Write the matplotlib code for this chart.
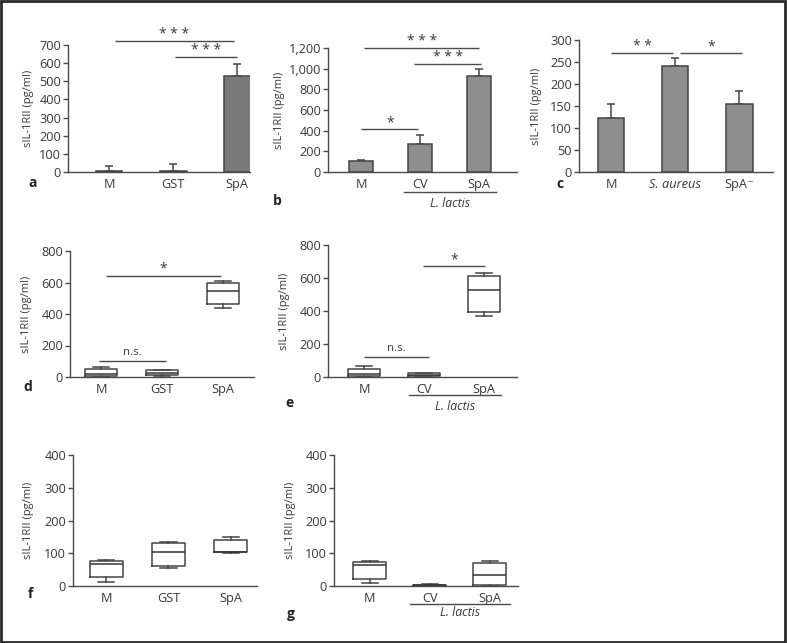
import matplotlib
matplotlib.use("Agg")
import matplotlib.pyplot as plt
from matplotlib.patches import Rectangle
from matplotlib.ticker import FuncFormatter

plt.rcParams['font.family'] = ['Open Sans', 'DejaVu Sans']

W, H = 787, 643
TXT = '#383838'
LINE = '#4a4a4a'

# ---------------- data ----------------
a_labels = ['M', 'GST', 'SpA']
a_means = [5, 5, 527]
a_err = [30, 40, 68]

b_labels = ['M', 'CV', 'SpA']
b_means = [105, 275, 925]
b_err = [15, 85, 75]

c_labels = ['M', 'S. aureus', 'SpA\u207b']
c_means = [123, 240, 155]
c_err = [32, 18, 30]

d_labels = ['M', 'GST', 'SpA']
d_whislo = [0, 6, 439]
d_q1 = [6, 15, 462]
d_med = [17, 28, 545]
d_q3 = [53, 42, 600]
d_whishi = [64, 47, 611]

e_labels = ['M', 'CV', 'SpA']
e_whislo = [0, 2, 372]
e_q1 = [4, 4, 392]
e_med = [18, 12, 525]
e_q3 = [46, 22, 614]
e_whishi = [67, 24, 628]

f_labels = ['M', 'GST', 'SpA']
f_whislo = [11, 54, 102]
f_q1 = [26, 61, 103]
f_med = [66, 103, 104]
f_q3 = [75, 130, 140]
f_whishi = [78, 134, 151]

g_labels = ['M', 'CV', 'SpA']
g_whislo = [9, 0, 1]
g_q1 = [21, 0.5, 4]
g_med = [65, 2, 35]
g_q3 = [73, 4, 70]
g_whishi = [77, 5, 75]

# significance brackets: (x_start, x_end, y_value, label)
a_sig = [(0.09, 1.95, 720, '***'), (1.03, 2.0, 635, '***')]
b_sig = [(0.05, 2.0, 1200, '***'), (0.9, 2.03, 1045, '***'), (0.0, 0.97, 416, '*')]
c_sig = [(0.0, 0.97, 270, '**'), (1.08, 2.05, 270, '*')]
d_sig = [(0.08, 1.97, 642, '*'), (-0.03, 1.07, 100, 'n.s.')]
e_sig = [(0.98, 2.02, 673, '*'), (0.0, 1.08, 121, 'n.s.')]

fig = plt.figure(figsize=(W / 100, H / 100), dpi=100)


def make_ax(left, right, y0px, ytop_px, ymax, xlim, yticks, ylabel_dx):
    ax = fig.add_axes([left / W, 1 - y0px / H, (right - left) / W, (y0px - ytop_px) / H])
    ax.set_xlim(*xlim)
    ax.set_ylim(0, ymax)
    for s in ['top', 'right']:
        ax.spines[s].set_visible(False)
    for s in ['left', 'bottom']:
        ax.spines[s].set_color(LINE)
        ax.spines[s].set_linewidth(1.0)
    ax.set_yticks(yticks)
    ax.tick_params(axis='y', direction='out', length=3.5, width=1.0, color=LINE,
                   labelcolor=TXT, labelsize=9.2, pad=1.5)
    ax.tick_params(axis='x', length=0, labelcolor=TXT, labelsize=9.2, pad=4)
    ax.set_ylabel('sIL-1RII (pg/ml)', fontsize=8, color=TXT)
    ax.yaxis.set_label_coords(-ylabel_dx / (right - left), 0.5)
    ax.patch.set_alpha(0)
    return ax


def add_sig(ax, sigs, px_per_unit, gap_px=7):
    for x1, x2, y, lab in sigs:
        ax.plot([x1, x2], [y, y], color=LINE, lw=1.0, clip_on=False, solid_capstyle='butt')
        dy = gap_px / px_per_unit
        if lab == 'n.s.':
            ax.text((x1 + x2) / 2, y + dy * 0.4, lab, ha='center', va='bottom',
                    fontsize=8.2, color=TXT, clip_on=False)
        else:
            ax.text((x1 + x2) / 2, y - dy * 0.15, ' '.join(lab), ha='center', va='bottom',
                    fontsize=10, color=TXT, clip_on=False)


def add_group(ax, x1, x2, yline, ytext):
    ax.plot([x1, x2], [yline, yline], color=LINE, lw=1.0, clip_on=False,
            transform=ax.get_xaxis_transform())
    ax.text((x1 + x2) / 2, ytext, 'L. lactis', style='italic', ha='center', va='center',
            fontsize=8.8, color=TXT, transform=ax.get_xaxis_transform(), clip_on=False)


def bar_panel(ax, labels, means, errs, color, width):
    x = list(range(len(labels)))
    ax.bar(x, means, width=width, color=color, edgecolor='#454545', linewidth=1.1, zorder=2)
    ax.errorbar(x, means, yerr=[[0] * len(errs), errs], fmt='none', ecolor='#454545',
                elinewidth=1.1, capsize=2.8, capthick=1.1, zorder=1)
    ax.set_xticks(x)
    ax.set_xticklabels(labels)


def box_panel(ax, labels, lo, q1, med, q3, hi, width):
    stats = []
    for i in range(len(labels)):
        stats.append(dict(whislo=lo[i], q1=q1[i], med=med[i], q3=q3[i], whishi=hi[i], fliers=[]))
    x = list(range(len(labels)))
    ax.bxp(stats, positions=x, widths=width, capwidths=width * 0.5, showfliers=False,
           patch_artist=False,
           boxprops=dict(color='#454545', linewidth=1.1),
           medianprops=dict(color='#353535', linewidth=1.1),
           whiskerprops=dict(color='#454545', linewidth=1.1),
           capprops=dict(color='#454545', linewidth=1.1))
    ax.set_xticks(x)
    ax.set_xticklabels(labels)


# ---- panel a ----
ax_a = make_ax(68, 250, 172, 45, 700, (-0.64, 2.2), range(0, 701, 100), 34)
bar_panel(ax_a, a_labels, a_means, a_err, '#7a7a7a', 0.42)
add_sig(ax_a, a_sig, 127 / 700)

# ---- panel b ----
ax_b = make_ax(328, 517, 172, 48, 1200, (-0.56, 2.64), range(0, 1201, 200), 43)
ax_b.yaxis.set_major_formatter(FuncFormatter(lambda v, p: f'{int(v):,}'))
bar_panel(ax_b, b_labels, b_means, b_err, '#8e8e8e', 0.41)
add_sig(ax_b, b_sig, 124 / 1200)
add_group(ax_b, 0.73, 2.29, -0.161, -0.25)

# ---- panel c ----
ax_c = make_ax(579, 773, 172, 40, 300, (-0.5, 2.53), range(0, 301, 50), 37)
bar_panel(ax_c, c_labels, c_means, c_err, '#8e8e8e', 0.42)
ax_c.get_xticklabels()[1].set_style('italic')
add_sig(ax_c, c_sig, 132 / 300)

# ---- panel d ----
ax_d = make_ax(70, 254, 377, 251, 800, (-0.51, 2.51), range(0, 801, 200), 38)
box_panel(ax_d, d_labels, d_whislo, d_q1, d_med, d_q3, d_whishi, 0.52)
add_sig(ax_d, d_sig, 126 / 800)

# ---- panel e ----
ax_e = make_ax(328, 517, 377, 245, 800, (-0.6, 2.55), range(0, 801, 200), 38)
box_panel(ax_e, e_labels, e_whislo, e_q1, e_med, e_q3, e_whishi, 0.52)
add_sig(ax_e, e_sig, 132 / 800)
add_group(ax_e, 0.75, 2.28, -0.136, -0.22)

# ---- panel f ----
ax_f = make_ax(73, 257, 586, 455, 400, (-0.53, 2.42), range(0, 401, 100), 39)
box_panel(ax_f, f_labels, f_whislo, f_q1, f_med, f_q3, f_whishi, 0.53)

# ---- panel g ----
ax_g = make_ax(334, 518, 586, 455, 400, (-0.6, 2.47), range(0, 401, 100), 38)
box_panel(ax_g, g_labels, g_whislo, g_q1, g_med, g_q3, g_whishi, 0.55)
add_group(ax_g, 0.67, 2.33, -0.137, -0.206)

# panel letters
letters = [('a', 33, 183), ('b', 277, 201), ('c', 560, 184), ('d', 28, 387),
           ('e', 289, 403), ('f', 30, 594), ('g', 291, 614)]
for t, x, y in letters:
    fig.text(x / W, 1 - y / H, t, fontsize=10, fontweight='bold', color='#222222',
             ha='center', va='center')

# frame around figure
fig.patches.append(Rectangle((0.001, 0.002), 0.997, 0.996, transform=fig.transFigure,
                             fill=False, edgecolor='#2a2a2a', linewidth=2.0))

fig.savefig('out.png', dpi=100)
